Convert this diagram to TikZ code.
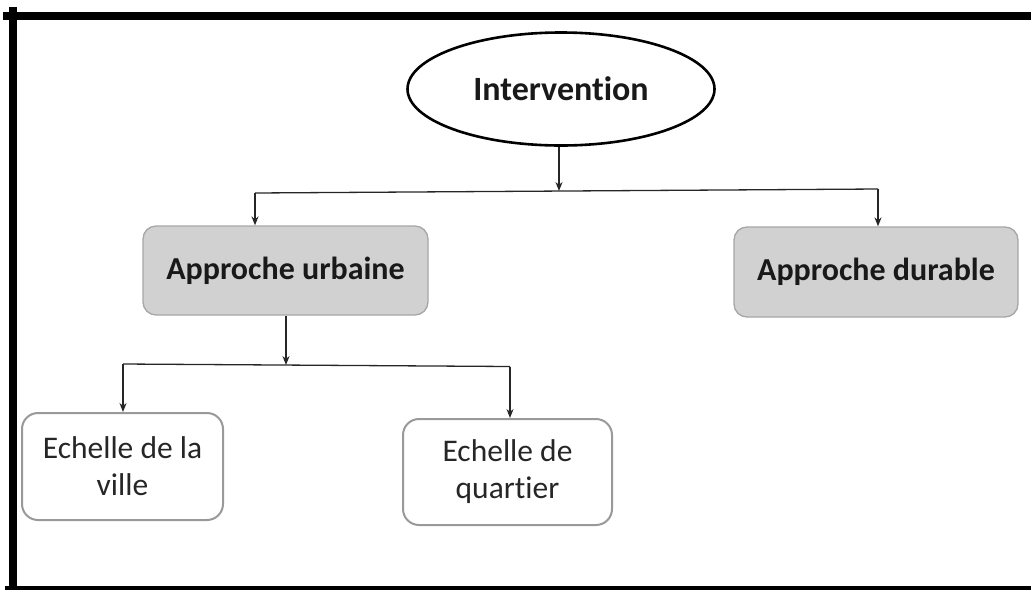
\documentclass[tikz,border=0pt]{standalone}
\usepackage{fontspec}
\setmainfont[Ligatures=NoCommon]{Carlito}
\usetikzlibrary{shapes.geometric,arrows.meta}
\begin{document}
\begin{tikzpicture}[x=1pt,y=-1pt,
  gbox/.style={draw=black!35,line width=1.3pt,fill=black!18,rounded corners=13pt,inner sep=0pt,font=\fontsize{32}{34}\selectfont\bfseries,text=black!90},
  wbox/.style={draw=black!40,line width=2pt,fill=white,rounded corners=16pt,inner sep=0pt,align=center,font=\fontsize{31.5}{37}\selectfont,text=black!85},
  oval/.style={ellipse,draw=black,line width=2.6pt,inner sep=0pt,font=\fontsize{34}{36}\selectfont\bfseries,text=black!90},
  conn/.style={line width=1.3pt,draw=black!85},
  arr/.style={conn,-{Stealth[length=9pt,width=7pt]}},
  framebar/.style={fill=black}]
\useasboundingbox (0,0) rectangle (1031,590);
% frame
\fill[framebar] (3,12) rectangle (1031,20);
\fill[framebar] (9,7) rectangle (16.5,590);
\fill[framebar] (5,586) rectangle (1031,590);
% nodes
\node[oval,minimum width=307pt,minimum height=113pt] (int) at (561,89) {Intervention};
\node[gbox,minimum width=285pt,minimum height=89pt] (urb) at (285.5,270.5) {Approche urbaine};
\node[gbox,minimum width=284pt,minimum height=90pt] (dur) at (876,272) {Approche durable};
\node[wbox,minimum width=201pt,minimum height=107pt] (ville) at (122.5,466.5) {Echelle de la\\ville};
\node[wbox,minimum width=209pt,minimum height=106pt] (quart) at (507.5,472) {Echelle de\\quartier};
% junction coordinates
\coordinate (j1) at (559,191);
\coordinate (l1) at (255,193);
\coordinate (r1) at (878,189);
\coordinate (j2) at (286,365);
\coordinate (l2) at (123,364);
\coordinate (r2) at (510,366.5);
% connectors
\draw[arr] (int.south -| j1) -- (j1);
\draw[conn] (l1) -- (r1);
\draw[arr] (l1) -- (l1 |- urb.north);
\draw[arr] (r1) -- (r1 |- dur.north);
\draw[arr] (urb.south -| j2) -- (j2);
\draw[conn] (l2) -- (r2);
\draw[arr] (l2) -- (l2 |- ville.north);
\draw[arr] (r2) -- (r2 |- quart.north);
\end{tikzpicture}
\end{document}
